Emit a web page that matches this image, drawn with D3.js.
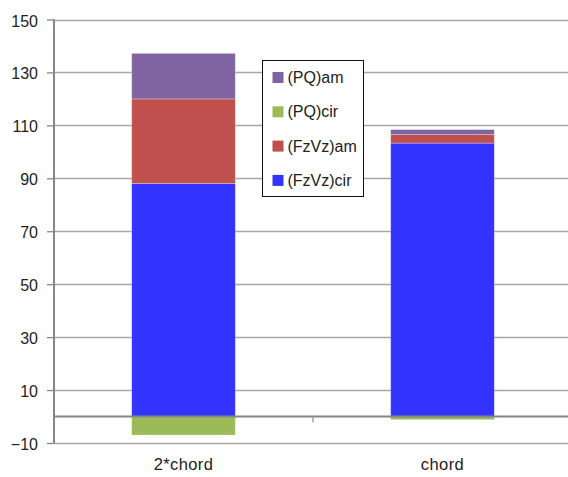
<!DOCTYPE html>
<html><head><meta charset="utf-8">
<script src="https://cdn.jsdelivr.net/npm/d3@7"></script>
<style>body{margin:0;background:#fff}svg{display:block}text{font-family:"Liberation Sans",Arial,sans-serif;fill:#222}</style>
</head><body>
<svg id="c" width="568" height="477"></svg>
<script>
const categories = ["2*chord", "chord"];
const seriesNames = ["(FzVz)cir", "(FzVz)am", "(PQ)cir", "(PQ)am"];
const fzvzCir = [88, 103.3];
const fzvzAm = [32, 3.2];
const pqCir = [-7, -1.2];
const pqAm = [17.2, 1.9];
const yTicks = [-10, 10, 30, 50, 70, 90, 110, 130, 150];
const legendOrder = ["(PQ)am", "(PQ)cir", "(FzVz)am", "(FzVz)cir"];
const colors = {"(FzVz)cir":"#3333FF","(FzVz)am":"#C0504D","(PQ)cir":"#9BBB59","(PQ)am":"#8064A2"};

const values = {"(FzVz)cir":fzvzCir,"(FzVz)am":fzvzAm,"(PQ)cir":pqCir,"(PQ)am":pqAm};
const svg = d3.select("#c");
const L = 54, R = 572, T = 19.5, B = 443;
const y = d3.scaleLinear().domain([-10,150]).range([B,T]);
const x = d3.scaleBand().domain(categories).range([L,R]).paddingInner(0.6).paddingOuter(0.3);
const xb = d3.scaleBand().domain(categories).range([L,R]);

// gridlines
svg.append("g").selectAll("line").data(yTicks).join("line")
  .attr("x1",L).attr("x2",R).attr("y1",d=>Math.round(y(d))+0.5).attr("y2",d=>Math.round(y(d))+0.5)
  .attr("stroke","#a6a6a6").attr("stroke-width",1.3);

// y axis
const ya = svg.append("g").attr("transform",`translate(${L},0)`)
  .call(d3.axisLeft(y).tickValues(yTicks).tickSize(7).tickPadding(9).tickFormat(d3.format("d")));
ya.select(".domain").attr("stroke","#868686").attr("stroke-width",2).attr("d",`M0,${T}V${B}`);
ya.selectAll(".tick line").attr("stroke","#868686").attr("stroke-width",1.3);
ya.selectAll(".tick text").style("font-size","16px").attr("fill","#222").attr("dy","0.35em")
  .attr("transform",d=>`translate(0,${Math.round(y(d))+0.5-y(d)})`);
ya.attr("font-family",null);

// stacked bars
const stackData = categories.map((c,i)=>{const o={cat:c}; seriesNames.forEach(s=>o[s]=values[s][i]); return o;});
const stack = d3.stack().keys(seriesNames).offset(d3.stackOffsetDiverging);
const layers = stack(stackData);
svg.append("g").selectAll("g").data(layers).join("g").attr("fill",d=>colors[d.key])
  .selectAll("rect").data(d=>d).join("rect")
  .attr("x",d=>x(d.data.cat)).attr("width",x.bandwidth())
  .attr("y",d=>y(Math.max(d[0],d[1]))).attr("height",d=>Math.abs(y(d[0])-y(d[1])))
  .attr("stroke","rgba(255,255,255,0.35)").attr("stroke-width",0.8);

// zero line / category axis
const xa = svg.append("g").attr("transform",`translate(0,${y(0)})`)
  .call(d3.axisBottom(xb).tickSize(0).tickFormat(""));
xa.select(".domain").attr("stroke","#868686").attr("stroke-width",2).attr("d",`M${L},0H${R}`);
svg.append("line").attr("x1",xb(categories[1])).attr("x2",xb(categories[1]))
  .attr("y1",y(0)).attr("y2",y(0)+6).attr("stroke","#999").attr("stroke-width",1.3);

// category labels
svg.append("g").selectAll("text").data(categories).join("text")
  .attr("x",d=>xb(d)+xb.bandwidth()/2).attr("y",470).attr("text-anchor","middle")
  .style("font-size","16.5px").style("letter-spacing","0.4px").text(d=>d);

// legend
const lg = svg.append("g").attr("transform","translate(262.5,60.5)");
lg.append("rect").attr("width",101).attr("height",136).attr("fill","#fff").attr("stroke","#111").attr("stroke-width",1);
const items = lg.selectAll("g").data(legendOrder).join("g").attr("transform",(d,i)=>`translate(0,${17+i*34.3})`);
items.append("rect").attr("x",10).attr("y",-5.5).attr("width",11).attr("height",11).attr("fill",d=>colors[d]);
items.append("text").attr("x",25).attr("y",0).attr("dy","0.35em").style("font-size","16px").text(d=>d);
</script>
</body></html>
